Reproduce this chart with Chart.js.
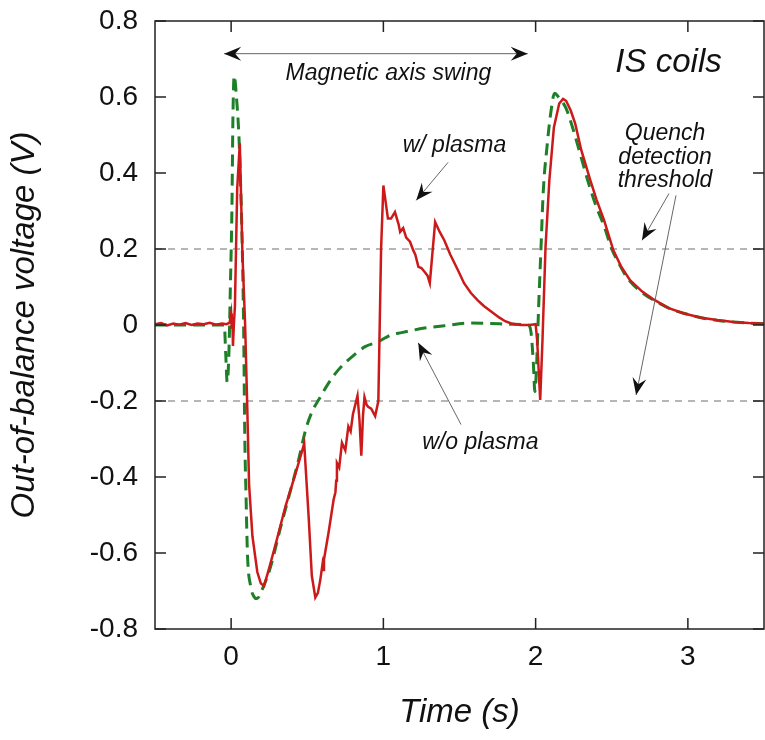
<!DOCTYPE html>
<html><head><meta charset="utf-8">
<script src="https://cdn.jsdelivr.net/npm/chart.js@4.4.1/dist/chart.umd.min.js"></script>
<style>html,body{margin:0;padding:0;background:#fff;}canvas{display:block;}</style>
</head><body>
<canvas id="c" width="765" height="740"></canvas>
<script>
// ---- data ----
const xTickValues = [0, 1, 2, 3];
const yTickValues = [-0.8, -0.6, -0.4, -0.2, 0, 0.2, 0.4, 0.6, 0.8];
const yTickLabels = ['-0.8', '-0.6', '-0.4', '-0.2', '0', '0.2', '0.4', '0.6', '0.8'];
const xRange = [-0.5, 3.5];
const yRange = [-0.8, 0.8];
const thresholdLevels = [0.2, -0.2];

const plasmaTime = [-0.5,-0.46,-0.42,-0.38,-0.34,-0.3,-0.26,-0.22,-0.18,-0.14,-0.1,-0.06,-0.03,-0.01,0.0,0.004,0.008,0.012,0.018,0.025,0.04,0.057,0.074,0.092,0.105,0.118,0.14,0.172,0.195,0.216,0.25,0.3,0.357,0.42,0.48,0.51,0.53,0.553,0.57,0.586,0.6,0.605,0.61,0.64,0.673,0.685,0.69,0.695,0.71,0.728,0.75,0.77,0.785,0.8,0.83,0.843,0.855,0.866,0.876,0.89,0.9,0.92,0.946,0.967,0.985,1.0,1.03,1.05,1.076,1.1,1.11,1.13,1.15,1.175,1.196,1.21,1.23,1.25,1.27,1.29,1.305,1.34,1.37,1.4,1.44,1.49,1.53,1.575,1.62,1.66,1.71,1.76,1.8,1.84,1.9,1.96,2.0,2.01,2.03,2.045,2.065,2.09,2.12,2.155,2.18,2.2,2.23,2.26,2.3,2.36,2.4,2.45,2.51,2.56,2.62,2.7,2.78,2.87,2.97,3.08,3.19,3.3,3.4,3.5];
const plasmaVolt = [0.002,0.005,-0.001,0.004,0.001,0.005,0.0,0.004,0.002,0.006,0.001,0.004,0.002,0.006,0.03,-0.01,0.02,-0.055,0.0,0.05,0.36,0.478,0.19,0.0,-0.2,-0.42,-0.556,-0.65,-0.68,-0.687,-0.64,-0.565,-0.477,-0.395,-0.312,-0.51,-0.66,-0.717,-0.705,-0.67,-0.63,-0.645,-0.617,-0.546,-0.46,-0.44,-0.41,-0.363,-0.375,-0.31,-0.33,-0.267,-0.28,-0.235,-0.186,-0.25,-0.344,-0.24,-0.19,-0.21,-0.215,-0.22,-0.24,-0.2,0.2,0.367,0.28,0.28,0.297,0.265,0.245,0.255,0.23,0.219,0.197,0.185,0.153,0.15,0.14,0.13,0.11,0.271,0.245,0.223,0.185,0.144,0.11,0.084,0.065,0.05,0.035,0.02,0.01,0.004,0.0,0.0,0.002,-0.04,-0.197,-0.04,0.205,0.38,0.52,0.583,0.595,0.59,0.565,0.53,0.46,0.38,0.33,0.275,0.197,0.155,0.118,0.088,0.066,0.045,0.031,0.02,0.013,0.008,0.005,0.003];

const noPlasmaTime = [-0.5,-0.3,-0.1,-0.045,-0.035,-0.026,-0.015,-0.005,0.005,0.012,0.02,0.035,0.052,0.063,0.074,0.082,0.09,0.098,0.107,0.128,0.15,0.17,0.205,0.26,0.32,0.38,0.44,0.49,0.535,0.575,0.64,0.7,0.77,0.88,0.967,1.05,1.12,1.27,1.4,1.556,1.7,1.85,1.95,1.97,1.985,1.995,2.005,2.02,2.035,2.05,2.075,2.1,2.125,2.15,2.2,2.25,2.3,2.35,2.4,2.45,2.5,2.55,2.6,2.7,2.8,2.9,3.0,3.1,3.2,3.3,3.4,3.5];
const noPlasmaVolt = [0,0,0,0,-0.08,-0.15,-0.08,0.1,0.3,0.55,0.656,0.6,0.49,0.36,0.19,0.0,-0.3,-0.45,-0.6,-0.687,-0.715,-0.72,-0.695,-0.635,-0.54,-0.45,-0.36,-0.275,-0.225,-0.197,-0.153,-0.12,-0.092,-0.057,-0.044,-0.026,-0.02,-0.008,-0.002,0.005,0.004,0.002,0.0,-0.02,-0.1,-0.175,-0.12,0.05,0.2,0.35,0.47,0.56,0.61,0.6,0.57,0.51,0.44,0.37,0.31,0.26,0.2,0.16,0.125,0.085,0.06,0.04,0.028,0.018,0.012,0.008,0.005,0.003];

// ---- rendering ----
const FAMILY = '"Liberation Sans", Arial, Helvetica, sans-serif';
const toPoints = (ts, vs) => ts.map((t, i) => ({x: t, y: vs[i]}));

function drawArrowHead(ctx, x1, y1, x2, y2) {
  const ang = Math.atan2(y2 - y1, x2 - x1);
  const len = 17, half = 7, notch = 11;
  const c = Math.cos(ang), s = Math.sin(ang);
  ctx.beginPath();
  ctx.moveTo(x2, y2);
  ctx.lineTo(x2 - len * c + half * s, y2 - len * s - half * c);
  ctx.lineTo(x2 - notch * c, y2 - notch * s);
  ctx.lineTo(x2 - len * c - half * s, y2 - len * s + half * c);
  ctx.closePath();
  ctx.fill();
}
function arrow(ctx, x1, y1, x2, y2, both) {
  ctx.strokeStyle = '#666'; ctx.lineWidth = 1;
  ctx.beginPath(); ctx.moveTo(x1, y1); ctx.lineTo(x2, y2); ctx.stroke();
  ctx.fillStyle = '#111';
  drawArrowHead(ctx, x1, y1, x2, y2);
  if (both) drawArrowHead(ctx, x2, y2, x1, y1);
}

const framePlugin = {
  id: 'frame',
  afterDatasetsDraw(chart) {
    const {ctx, chartArea: a, scales: {x, y}} = chart;
    const X = v => x.getPixelForValue(v), Y = v => y.getPixelForValue(v);
    ctx.save();
    ctx.strokeStyle = '#222'; ctx.lineWidth = 1.5;
    ctx.strokeRect(a.left, a.top, a.right - a.left, a.bottom - a.top);
    const L = 11;
    ctx.beginPath();
    xTickValues.forEach(v => { const p = X(v); ctx.moveTo(p, a.bottom); ctx.lineTo(p, a.bottom - L); ctx.moveTo(p, a.top); ctx.lineTo(p, a.top + L); });
    yTickValues.forEach(v => { const p = Y(v); ctx.moveTo(a.left, p); ctx.lineTo(a.left + L, p); ctx.moveTo(a.right, p); ctx.lineTo(a.right - L, p); });
    ctx.stroke();

    // annotations
    ctx.fillStyle = '#111';
    ctx.textAlign = 'center'; ctx.textBaseline = 'middle';
    ctx.font = 'italic 23px ' + FAMILY;
    ctx.fillText('Magnetic axis swing', X(1.033), Y(0.661));
    ctx.fillText('w/ plasma', X(1.467), Y(0.472));
    ctx.fillText('w/o plasma', X(1.637), Y(-0.31));
    ctx.fillText('Quench', X(2.85), Y(0.504));
    ctx.fillText('detection', X(2.85), Y(0.441));
    ctx.fillText('threshold', X(2.85), Y(0.381));
    ctx.font = 'italic 33px ' + FAMILY;
    ctx.fillText('IS coils', X(2.873), Y(0.69));

    arrow(ctx, X(-0.046), Y(0.714), X(1.948), Y(0.714), true);
    arrow(ctx, X(1.425), Y(0.428), X(1.216), Y(0.328));
    arrow(ctx, X(1.51), Y(-0.262), X(1.229), Y(-0.047));
    arrow(ctx, X(2.876), Y(0.346), X(2.699), Y(0.223));
    arrow(ctx, X(2.922), Y(0.341), X(2.66), Y(-0.184));
    ctx.restore();
  }
};

const datasets = [
  {label: 'w/ plasma', data: toPoints(plasmaTime, plasmaVolt), borderColor: '#cc1a1a', borderWidth: 2.5, tension: 0, fill: false},
  {label: 'w/o plasma', data: toPoints(noPlasmaTime, noPlasmaVolt), borderColor: '#1d7f28', borderWidth: 3, borderDash: [12, 7], cubicInterpolationMode: 'monotone', fill: false}
];
thresholdLevels.forEach(lv => datasets.push({
  label: 'threshold ' + lv, data: xRange.map(t => ({x: t, y: lv})),
  borderColor: '#6e6e6e', borderWidth: 1.2, borderDash: [7, 6], fill: false
}));

new Chart(document.getElementById('c'), {
  type: 'line',
  data: {datasets},
  options: {
    responsive: false, animation: false, devicePixelRatio: 1,
    layout: {padding: {top: 21, right: 1, left: 0, bottom: 0}},
    elements: {point: {radius: 0}},
    plugins: {legend: {display: false}, tooltip: {enabled: false}},
    scales: {
      x: {
        type: 'linear', min: xRange[0], max: xRange[1],
        afterFit(s) { s.height = 111; s.paddingLeft = 0; s.paddingRight = 0; },
        afterBuildTicks(s) { s.ticks = xTickValues.map(v => ({value: v})); },
        grid: {display: false, drawTicks: false}, border: {display: false},
        ticks: {padding: 11, color: '#111', autoSkip: false, maxRotation: 0, font: {family: FAMILY, size: 28}, callback: v => String(v)},
        title: {display: true, text: 'Time (s)', color: '#111', font: {family: FAMILY, size: 33, style: 'italic'}, padding: {top: 0, bottom: 7}}
      },
      y: {
        type: 'linear', min: yRange[0], max: yRange[1],
        afterFit(s) { s.width = 155; s.paddingTop = 0; s.paddingBottom = 0; },
        afterBuildTicks(s) { s.ticks = yTickValues.map(v => ({value: v})); },
        grid: {display: false, drawTicks: false}, border: {display: false},
        ticks: {padding: 17, color: '#111', autoSkip: false, font: {family: FAMILY, size: 28}, callback: v => yTickLabels[yTickValues.indexOf(v)]},
        title: {display: true, text: 'Out-of-balance voltage (V)', color: '#111', font: {family: FAMILY, size: 33, style: 'italic'}, padding: {top: 5, bottom: 0}}
      }
    }
  },
  plugins: [framePlugin]
});
</script>
</body></html>
